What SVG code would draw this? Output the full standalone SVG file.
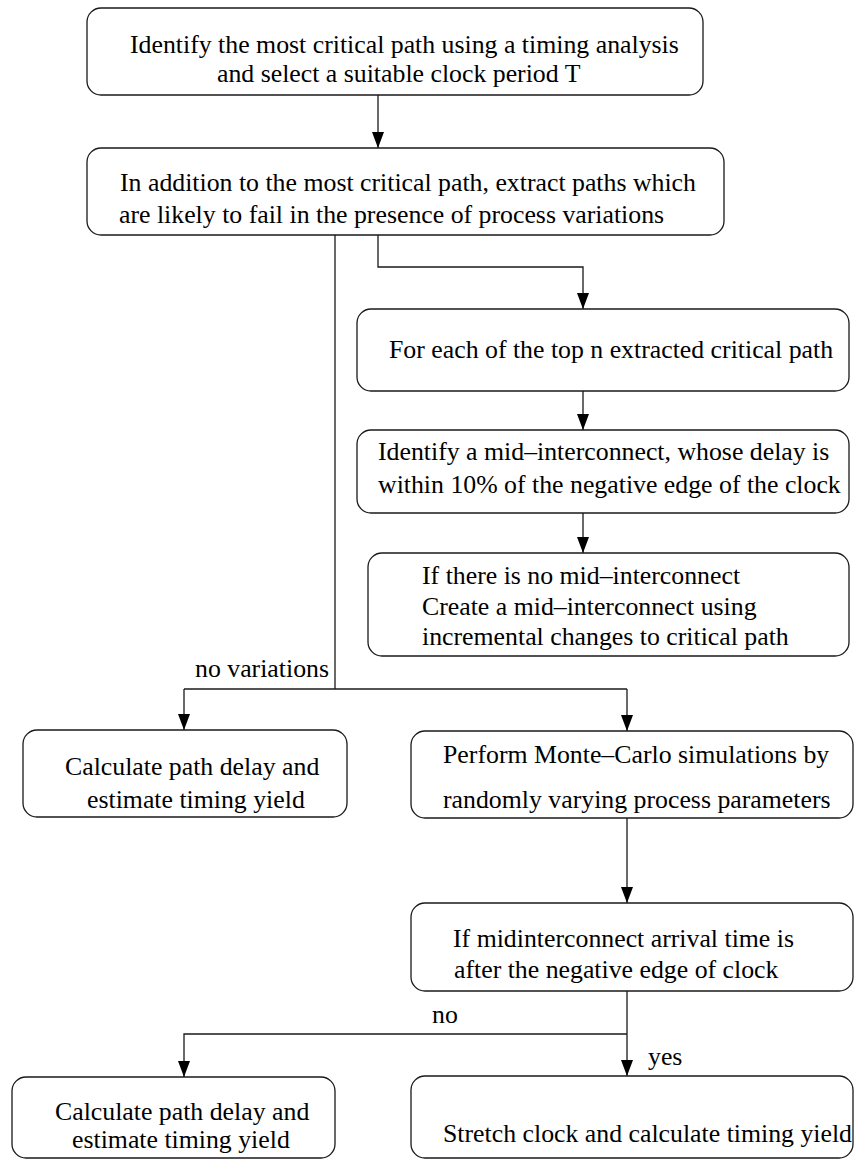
<svg xmlns="http://www.w3.org/2000/svg" width="855" height="1160" viewBox="0 0 855 1160">
  <style>
    .box { fill: #ffffff; stroke: #1a1a1a; stroke-width: 1.3; }
    .wire { fill: none; stroke: #1a1a1a; stroke-width: 1.3; }
    text { font-family: "Liberation Serif", "Times New Roman", serif; font-size: 25.8px; fill: #000000; }
  </style>
  <defs>
    <marker id="arrow" markerUnits="userSpaceOnUse" markerWidth="12" markerHeight="16" viewBox="0 0 12 16" refX="6" refY="16" orient="auto-start-reverse">
      <path d="M0,0 L12,0 L6,16 Z" fill="#000000" transform="rotate(-90 6 8) translate(0 0)"/>
    </marker>
    <marker id="head" markerUnits="userSpaceOnUse" markerWidth="16" markerHeight="12" viewBox="0 0 16 12" refX="16" refY="6" orient="auto">
      <path d="M0,0 L16,6 L0,12 Z" fill="#000000"/>
    </marker>
  </defs>

  <!-- connectors -->
  <g id="connectors">
    <path class="wire" d="M378,95 V148" marker-end="url(#head)"/>
    <path class="wire" d="M378,235 V267 H583 V309" marker-end="url(#head)"/>
    <path class="wire" d="M583,391 V430" marker-end="url(#head)"/>
    <path class="wire" d="M583,513 V553" marker-end="url(#head)"/>
    <path class="wire" d="M335,235 V689"/>
    <path class="wire" d="M184,689 H627"/>
    <path class="wire" d="M184,689 V730" marker-end="url(#head)"/>
    <path class="wire" d="M627,689 V731" marker-end="url(#head)"/>
    <path class="wire" d="M627,818 V903" marker-end="url(#head)"/>
    <path class="wire" d="M627,991 V1076" marker-end="url(#head)"/>
    <path class="wire" d="M627,1034 H184 V1077" marker-end="url(#head)"/>
    <text x="195" y="677">no variations</text>
    <text x="432" y="1023">no</text>
    <text x="648" y="1065">yes</text>
  </g>

  <g id="select-clock">
    <rect class="box" x="87" y="8" width="616" height="87" rx="14"/>
    <text x="130" y="53">Identify the most critical path using a timing analysis</text>
    <text x="217" y="82">and select a suitable clock period T</text>
  </g>

  <g id="extract-paths">
    <rect class="box" x="87" y="148" width="637" height="87" rx="14"/>
    <text x="120" y="191">In addition to the most critical path, extract paths which</text>
    <text x="119" y="223">are likely to fail in the presence of process variations</text>
  </g>

  <g id="for-each-path">
    <rect class="box" x="357" y="309" width="492" height="82" rx="14"/>
    <text x="389" y="358">For each of the top n extracted critical path</text>
  </g>

  <g id="find-mid-interconnect">
    <rect class="box" x="357" y="430" width="492" height="83" rx="14"/>
    <text x="378" y="460">Identify a mid–interconnect, whose delay is</text>
    <text x="378" y="493">within 10% of the negative edge of the clock</text>
  </g>

  <g id="create-mid-interconnect">
    <rect class="box" x="368" y="553" width="481" height="103" rx="14"/>
    <text x="422" y="584">If there is no mid–interconnect</text>
    <text x="422" y="615">Create a mid–interconnect using</text>
    <text x="422" y="645">incremental changes to critical path</text>
  </g>

  <g id="yield-no-variations">
    <rect class="box" x="23" y="730" width="324" height="87" rx="14"/>
    <text x="65" y="775">Calculate path delay and</text>
    <text x="87" y="808">estimate timing yield</text>
  </g>

  <g id="monte-carlo">
    <rect class="box" x="411" y="731" width="442" height="87" rx="14"/>
    <text x="443" y="763">Perform Monte–Carlo simulations by</text>
    <text x="443" y="808">randomly varying process parameters</text>
  </g>

  <g id="arrival-check">
    <rect class="box" x="411" y="903" width="442" height="88" rx="14"/>
    <text x="453" y="947">If midinterconnect arrival time is</text>
    <text x="454" y="978">after the negative edge of clock</text>
  </g>

  <g id="yield-no">
    <rect class="box" x="12" y="1077" width="323" height="81" rx="14"/>
    <text x="55" y="1120">Calculate path delay and</text>
    <text x="72" y="1148">estimate timing yield</text>
  </g>

  <g id="stretch-clock">
    <rect class="box" x="411" y="1076" width="442" height="82" rx="14"/>
    <text x="443" y="1142">Stretch clock and calculate timing yield</text>
  </g>
</svg>
